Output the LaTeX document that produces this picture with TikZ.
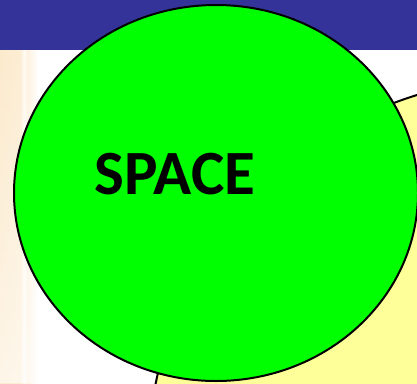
\documentclass[tikz,border=0pt]{standalone}
\usepackage{fontspec}
\setsansfont{Carlito}
\usetikzlibrary{fadings}
\definecolor{barblue}{RGB}{51,51,153}
\definecolor{spacegreen}{RGB}{0,255,0}
\definecolor{paleyellow}{RGB}{255,255,153}
\definecolor{beige}{RGB}{252,234,204}
\tikzfading[name=fadedown, top color=transparent!100, bottom color=transparent!45]
\begin{document}
\begin{tikzpicture}[x=1pt, y=-1pt,
    outline/.style={draw=black, line width=2pt},
    label/.style={font=\sffamily\bfseries\fontsize{63}{63}\selectfont, inner sep=0pt}
]
\useasboundingbox (0,0) rectangle (417,383);
\fill[white] (0,0) rectangle (417,383);
% left strip and title bar
\shade[left color=beige, right color=beige!85] (0,50) rectangle (20,383);
\shade[left color=beige!85, right color=beige!25] (20,50) rectangle (24,383);
\shade[left color=beige!25, right color=beige!60] (24,50) rectangle (28,383);
\shade[left color=beige!60, right color=white] (28,50) rectangle (38,383);
\fill[white, path fading=fadedown] (0,50) rectangle (38,383);
\fill[barblue] (0,0) rectangle (417,50);
% yellow circle behind
\begin{scope}
\clip (0,0) rectangle (417,383);
\draw[outline, fill=paleyellow] (530,460) circle[radius=382];
\end{scope}
% green ellipse
\draw[outline, fill=spacegreen] (216,193) ellipse[x radius=202, y radius=188];
\node[label] (spacelabel) at (175,174) {SPACE};
\end{tikzpicture}
\end{document}
